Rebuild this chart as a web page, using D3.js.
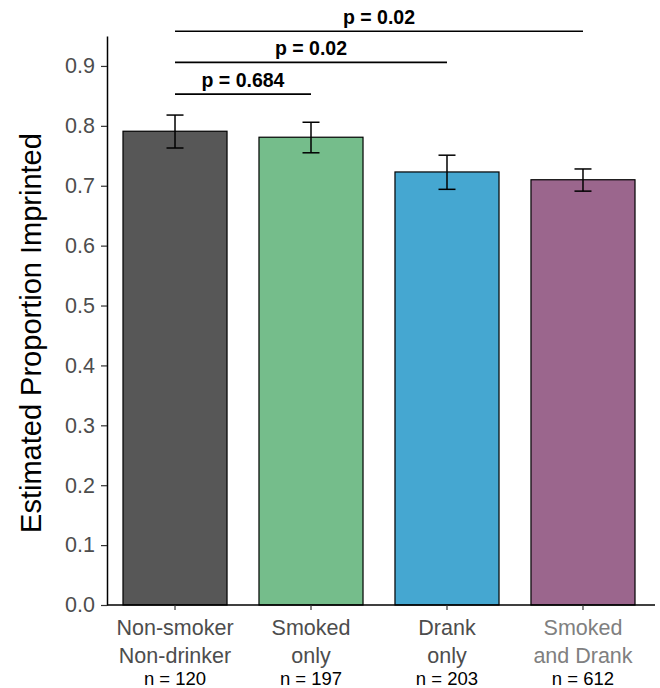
<!DOCTYPE html>
<html>
<head>
<meta charset="utf-8">
<script src="https://cdn.jsdelivr.net/npm/d3@7"></script>
<style>
  html, body { margin: 0; padding: 0; background: #fff; }
  svg { display: block; font-family: "Liberation Sans", Arial, Helvetica, sans-serif; }
</style>
</head>
<body>
<div id="chart"></div>
<script>
// data
const groups = ['Non-smoker\nNon-drinker', 'Smoked\nonly', 'Drank\nonly', 'Smoked\nand Drank'];
const counts = [120, 197, 203, 612];
const estimate = [0.791, 0.781, 0.723, 0.710];
const ciLow = [0.763, 0.755, 0.694, 0.691];
const ciHigh = [0.818, 0.806, 0.751, 0.728];
const barColors = ['#575757', '#75bd8b', '#45a7d1', '#9b668d'];
const labelColors = ['#4d4d4d', '#4d4d4d', '#4d4d4d', '#808080'];
const yTicks = [0.0, 0.1, 0.2, 0.3, 0.4, 0.5, 0.6, 0.7, 0.8, 0.9];

// significance brackets: from group 0 to group `to`
const compareTo = [1, 2, 3];
const pValues = ['p = 0.684', 'p = 0.02', 'p = 0.02'];
const bracketLevel = [0.853, 0.906, 0.958];

const width = 660, height = 688;
const margin = { top: 36, right: 5, bottom: 83, left: 107 };

const svg = d3.select('#chart').append('svg')
  .attr('width', width)
  .attr('height', height);

const x = d3.scaleBand()
  .domain(d3.range(groups.length))
  .range([margin.left, 651])
  .paddingInner(0.235)
  .paddingOuter(0.1176);

const y = d3.scaleLinear()
  .domain([0, 0.95])
  .range([height - margin.bottom, margin.top]);

const y0 = y(0);
const cx = i => x(i) + x.bandwidth() / 2;

// bars
svg.selectAll('rect.bar')
  .data(estimate)
  .enter()
  .append('rect')
    .attr('class', 'bar')
    .attr('x', (d, i) => x(i))
    .attr('y', d => y(d))
    .attr('width', x.bandwidth())
    .attr('height', d => y0 - y(d))
    .attr('fill', (d, i) => barColors[i])
    .attr('stroke', '#000')
    .attr('stroke-width', 1.2);

// error bars
const capHalf = 8.5;
const eb = svg.selectAll('g.err')
  .data(estimate)
  .enter()
  .append('g')
    .attr('class', 'err')
    .attr('stroke', '#000')
    .attr('stroke-width', 1.5);
eb.append('line')
  .attr('x1', (d, i) => cx(i))
  .attr('x2', (d, i) => cx(i))
  .attr('y1', (d, i) => y(ciLow[i]))
  .attr('y2', (d, i) => y(ciHigh[i]));
eb.append('line')
  .attr('x1', (d, i) => cx(i) - capHalf)
  .attr('x2', (d, i) => cx(i) + capHalf)
  .attr('y1', (d, i) => y(ciHigh[i]))
  .attr('y2', (d, i) => y(ciHigh[i]));
eb.append('line')
  .attr('x1', (d, i) => cx(i) - capHalf)
  .attr('x2', (d, i) => cx(i) + capHalf)
  .attr('y1', (d, i) => y(ciLow[i]))
  .attr('y2', (d, i) => y(ciLow[i]));

// y axis
const yAxis = svg.append('g')
  .attr('transform', `translate(${margin.left},0)`)
  .call(d3.axisLeft(y).tickValues(yTicks).tickFormat(d3.format('.1f')).tickSize(6).tickPadding(6).tickSizeOuter(0));
yAxis.select('.domain').attr('stroke', '#000').attr('stroke-width', 1.5);
yAxis.selectAll('.tick line').attr('stroke', '#333').attr('stroke-width', 1.2);
yAxis.selectAll('.tick text')
  .attr('fill', '#4d4d4d')
  .style('font-size', '21.5px');

// x axis
const xAxis = svg.append('g')
  .attr('transform', `translate(0,${y0})`)
  .call(d3.axisBottom(x).tickFormat('').tickSize(5).tickSizeOuter(0));
xAxis.select('.domain')
  .attr('d', `M${margin.left},0H${width - margin.right}`)
  .attr('stroke', '#000').attr('stroke-width', 1.5);
xAxis.selectAll('.tick line').attr('stroke', '#333').attr('stroke-width', 1.2);

// category labels
const catLabels = svg.selectAll('text.cat')
  .data(groups)
  .enter()
  .append('text')
    .attr('class', 'cat')
    .attr('text-anchor', 'middle')
    .attr('fill', (d, i) => labelColors[i])
    .style('font-size', '21.5px');
catLabels.each(function (d, i) {
  const t = d3.select(this);
  d.split('\n').forEach((line, j) => {
    t.append('tspan')
      .attr('x', cx(i))
      .attr('y', y0 + 30 + j * 27.5)
      .text(line);
  });
});

svg.selectAll('text.n')
  .data(counts)
  .enter()
  .append('text')
    .attr('class', 'n')
    .attr('text-anchor', 'middle')
    .attr('x', (d, i) => cx(i))
    .attr('y', y0 + 80)
    .attr('fill', '#000')
    .style('font-size', '18.5px')
    .text(d => `n = ${d}`);

// y axis title
svg.append('text')
  .attr('transform', `translate(41,333) rotate(-90)`)
  .attr('text-anchor', 'middle')
  .attr('fill', '#000')
  .style('font-size', '29px')
  .text('Estimated Proportion Imprinted');

// significance brackets
const br = svg.selectAll('g.sig')
  .data(compareTo)
  .enter()
  .append('g')
    .attr('class', 'sig');
br.append('line')
  .attr('x1', cx(0))
  .attr('x2', d => cx(d))
  .attr('y1', (d, i) => y(bracketLevel[i]))
  .attr('y2', (d, i) => y(bracketLevel[i]))
  .attr('stroke', '#000')
  .attr('stroke-width', 1.6);
br.append('text')
  .attr('x', d => (cx(0) + cx(d)) / 2)
  .attr('y', (d, i) => y(bracketLevel[i]) - 7)
  .attr('text-anchor', 'middle')
  .attr('fill', '#000')
  .style('font-size', '19.5px')
  .style('font-weight', 'bold')
  .text((d, i) => pValues[i]);
</script>
</body>
</html>
